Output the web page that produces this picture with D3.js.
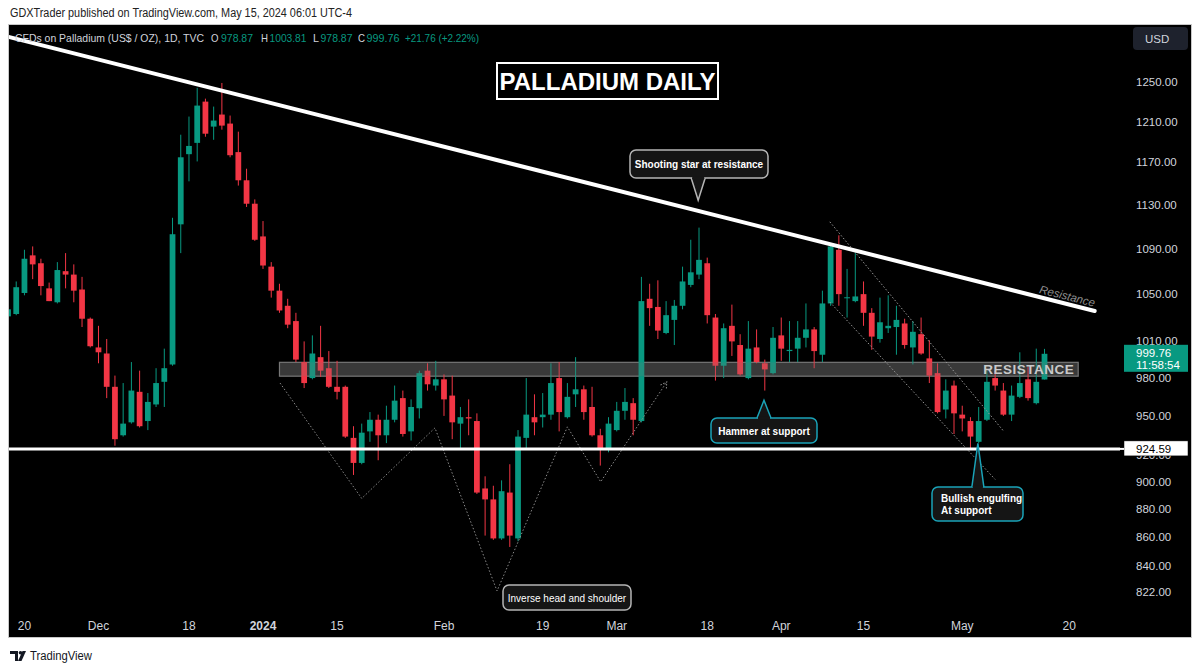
<!DOCTYPE html>
<html>
<head>
<meta charset="utf-8">
<script src="https://cdn.jsdelivr.net/npm/d3@7"></script>
<style>
  body { margin: 0; background: #fff; }
  text { font-family: "Liberation Sans", Arial, sans-serif; }
</style>
</head>
<body>
<div id="chart"></div>
<script>
// Daily candles, Nov 16 2023 -> May 15 2024 (bar index 0..126)
var opens  = [1031,1033,1051,1084,1077,1055,1043,1070,1067,1054,1029,1005,1000,973,935,945,969,946,959,977,
              991,1112,1178,1189,1230,1205,1217,1208,1180,1153,1131,1101,1074,1053,1040,1027,993,980,997,988,
              973,973,933,914,938,947,935,947,964,938,956,986,974,979,966,944,949,946,895,887,
              859,892,859,933,949,949,951,980,949,967,971,957,935,924,939,954,960,946,1046,1039,
              1017,1028,1040,1058,1067,1077,1030,990,1023,1007,980,1005,992,984,1015,1002,1004,1013,1020,999,
              1042,1089,1046.5,1044,1050,1034,1012,1021,1022,1025,1005,1016,996,984,955,974,951,946,930,947,
              980,970,951,965,979,960,978.87];
var highs  = [1039,1061,1089,1092,1081,1060,1078,1086,1076,1065,1030,1023,1012,982,976,993,986,968,988,1004,
              1118,1197,1215,1244,1233,1225,1249,1216,1200,1164,1135,1115,1078,1059,1046,1034,1010,1015,1023,1002,
              994,974,942,944,953,951,958,974,970,963,986,992,994,983,982,957,963,952,904,897,
              901,913,939,980,967,968,992,993,976,997,974,973,940,949,961,972,964,1065,1059,1062,
              1044,1045,1074,1098,1109,1082,1033,1025,1041,1016,1027,1020,995,1022,1030,1027,1027,1042,1022,1053,
              1093,1102,1072,1086,1061,1038,1047,1049,1040,1029,1027,1030,1011,992,979,978,958,949,957,986,
              986,976,974,1001,989,1004,1003.81];
var lows   = [1029,1032,1049,1063,1049,1044,1042,1055,1043,1022,1005,992,964,927,934,944,941,939,957,957,
              990,1086,1152,1171,1195,1192,1202,1175,1148,1128,1097,1072,1047,1034,1021,993,972,979,981,972,
              963,933,905,913,930,916,929,945,934,931,948,970,970,950,932,925,935,891,861,858,
              858,853,857,924,935,941,947,938,948,957,947,934,912,922,938,947,935,945,1023,1012,
              1016,1007,1037,1056,1063,1025,978,980,998,982,979,992,970,983,994,993,993,1005,988,993,
              1040,1040,1030,1043,1023,1003,1009,1017,999,1004,991,999,976,952,948,936,938,924,929,946,
              970,950,946,964,962,959,978.87];
var closes = [1037,1056,1081,1076,1057,1044,1071,1067,1053,1029,1006,1001,973,932,944,970,942,961,976,988,
              1103,1175,1186,1226,1198,1211,1206,1177,1153,1131,1098,1075,1053,1036,1024,995,976,1000,986,973,
              969,934,914,937,947,935,947,962,936,957,984,975,979,963,945,949,948,892,887,859,
              893,861,934,951,945,951,976,953,965,971,953,935,924,944,954,961,947,1044,1038,1019,
              1032,1040,1061,1069,1080,1032,990,1021,1010,983,1004,993,987,1013,1004,1003,1013,1020,1002,1042,
              1092,1050,1047.3,1048,1034,1014,1026,1023,1028,1007,1018,1000,982,953,970,952,948,934,946,977,
              974,951,966,976,964,977,999.76];

var xTickIdx    = [2, 11, 22, 31, 40, 53, 65, 74, 85, 94, 104, 116, 129];
var xTickLabels = ["20", "Dec", "18", "2024", "15", "Feb", "19", "Mar", "18", "Apr", "15", "May", "20"];
var yTicks      = [1250, 1210, 1170, 1130, 1090, 1050, 1010, 980, 950, 920, 900, 880, 860, 840, 822];

// drawn levels / patterns, in (bar index, price)
var trendLine   = [[0, 1297.4], [132.1, 1035.6]];
var supportLvl  = 924.59;
var resistZone  = [33, 130.1, 981.5, 992.8];
var headShoulder = [[33.07, 976.0], [43.0, 887.7], [51.9, 940.7], [59.45, 822.7], [68.0, 941.5], [72.05, 899.9], [80.08, 976.9]];
var channelTop  = [[99.9, 1114.3], [121.0, 938.4]];
var channelBot  = [[99.9, 1043.2], [120.0, 901.7]];

var W = 1200, H = 668;
var GREEN = "#089981", RED = "#f23645";

var svg = d3.select("#chart").append("svg")
    .attr("width", W).attr("height", H);

// frame
svg.append("rect").attr("x", 0).attr("y", 0).attr("width", W).attr("height", H).attr("fill", "#fff");
svg.append("rect").attr("x", 8.5).attr("y", 24.5).attr("width", 1183).attr("height", 613)
    .attr("fill", "#000").attr("stroke", "#c8c8c8").attr("stroke-width", 1);

var plot = {left: 9, right: 1120, top: 25, bottom: 612};

var x = d3.scaleLinear().domain([0, 126]).range([8, 1044.5]);
var y = d3.scaleLog().domain([822, 1250]).range([592, 82]);
var step = x(1) - x(0);

svg.append("clipPath").attr("id", "plotclip").append("rect")
    .attr("x", plot.left).attr("y", plot.top)
    .attr("width", plot.right - plot.left).attr("height", plot.bottom - plot.top);

var g = svg.append("g").attr("clip-path", "url(#plotclip)");

// resistance zone
g.append("rect")
    .attr("x", x(resistZone[0])).attr("width", x(resistZone[1]) - x(resistZone[0]))
    .attr("y", y(resistZone[3])).attr("height", y(resistZone[2]) - y(resistZone[3]))
    .attr("fill", "rgba(120,120,120,0.33)")
    .attr("stroke", "rgba(200,200,200,0.55)").attr("stroke-width", 1.2);

// candles
var idx = d3.range(opens.length);
var candles = g.append("g").selectAll("g").data(idx).enter().append("g");
candles.append("line")
    .attr("x1", function(i){ return x(i); }).attr("x2", function(i){ return x(i); })
    .attr("y1", function(i){ return y(highs[i]); }).attr("y2", function(i){ return y(lows[i]); })
    .attr("stroke", function(i){ return closes[i] >= opens[i] ? GREEN : RED; })
    .attr("stroke-width", 1);
candles.append("rect")
    .attr("x", function(i){ return x(i) - step * 0.35; })
    .attr("width", step * 0.7)
    .attr("y", function(i){ return y(Math.max(opens[i], closes[i])); })
    .attr("height", function(i){ return Math.max(1, Math.abs(y(opens[i]) - y(closes[i]))); })
    .attr("fill", function(i){ return closes[i] >= opens[i] ? GREEN : RED; });

// resistance zone overlay (drawn over candles too, semi transparent)
g.append("rect")
    .attr("x", x(resistZone[0])).attr("width", x(resistZone[1]) - x(resistZone[0]))
    .attr("y", y(resistZone[3])).attr("height", y(resistZone[2]) - y(resistZone[3]))
    .attr("fill", "rgba(120,120,120,0.22)");

g.append("text")
    .attr("x", x(resistZone[1]) - 4).attr("y", (y(resistZone[2]) + y(resistZone[3])) / 2 + 5)
    .attr("text-anchor", "end")
    .attr("fill", "#c9c9c9").attr("font-size", 13.5).attr("font-weight", "bold")
    .attr("letter-spacing", 0.5)
    .text("RESISTANCE");

var line = d3.line().x(function(d){ return x(d[0]); }).y(function(d){ return y(d[1]); });

// dotted pattern lines
g.append("path").datum(headShoulder).attr("d", line)
    .attr("fill", "none").attr("stroke", "#8a8a8a").attr("stroke-width", 1)
    .attr("stroke-dasharray", "1.5,2");
var hsEnd = headShoulder[headShoulder.length - 1], hsPrev = headShoulder[headShoulder.length - 2];
var ang = Math.atan2(y(hsEnd[1]) - y(hsPrev[1]), x(hsEnd[0]) - x(hsPrev[0]));
g.append("path")
    .attr("d", "M-6,-3.5 L0,0 L-6,3.5")
    .attr("transform", "translate(" + x(hsEnd[0]) + "," + y(hsEnd[1]) + ") rotate(" + (ang * 180 / Math.PI) + ")")
    .attr("fill", "none").attr("stroke", "#8a8a8a").attr("stroke-width", 1).attr("stroke-dasharray", "1.5,1.5");

[channelTop, channelBot].forEach(function(c) {
  g.append("path").datum(c).attr("d", line)
    .attr("fill", "none").attr("stroke", "#9a9a9a").attr("stroke-width", 1)
    .attr("stroke-dasharray", "1.5,2");
});

// support + trend line
g.append("line")
    .attr("x1", plot.left).attr("x2", plot.right)
    .attr("y1", y(supportLvl)).attr("y2", y(supportLvl))
    .attr("stroke", "#fff").attr("stroke-width", 3);
g.append("path").datum(trendLine).attr("d", line)
    .attr("fill", "none").attr("stroke", "#fff").attr("stroke-width", 4)
    .attr("stroke-linecap", "round");

// "Resistance" label along the trend line
var tA = trendLine[0], tB = trendLine[1];
var tAng = Math.atan2(y(tB[1]) - y(tA[1]), x(tB[0]) - x(tA[0])) * 180 / Math.PI;
g.append("text")
    .attr("transform", "translate(" + (x(tB[0]) - 56) + "," + (y(tB[1]) - 18) + ") rotate(" + tAng + ")")
    .attr("fill", "#8c8c8c").attr("font-size", 11.5).attr("font-style", "italic")
    .text("Resistance");

// title box
svg.append("rect").attr("x", 497).attr("y", 63).attr("width", 221).attr("height", 36)
    .attr("fill", "#000").attr("stroke", "#fff").attr("stroke-width", 2);
svg.append("text").attr("x", 607.5).attr("y", 90).attr("text-anchor", "middle")
    .attr("fill", "#fff").attr("font-size", 24).attr("font-weight", "bold")
    .text("PALLADIUM DAILY");

// callouts
function callout(lines, bx, by, bw, bh, stroke, tip, ptrHalf, bold) {
  var cg = svg.append("g");
  cg.append("rect").attr("x", bx).attr("y", by).attr("width", bw).attr("height", bh)
    .attr("rx", 6).attr("fill", "#151515").attr("stroke", stroke).attr("stroke-width", 1.5);
  if (tip) {
    var tx = x(tip[0]), ty = y(tip[1]);
    var baseY = ty < by ? by : by + bh;
    cg.append("path")
      .attr("d", "M" + (tx - ptrHalf) + "," + baseY + " L" + tx + "," + ty + " L" + (tx + ptrHalf) + "," + baseY)
      .attr("fill", "#151515").attr("stroke", stroke).attr("stroke-width", 1.5);
    cg.append("line").attr("x1", tx - ptrHalf + 1).attr("x2", tx + ptrHalf - 1)
      .attr("y1", baseY).attr("y2", baseY).attr("stroke", "#151515").attr("stroke-width", 2.5);
  }
  lines.forEach(function(t, k) {
    cg.append("text")
      .attr("x", lines.length > 1 ? bx + 9 : bx + bw / 2)
      .attr("y", by + bh / 2 + 4 + (k - (lines.length - 1) / 2) * 12)
      .attr("text-anchor", lines.length > 1 ? "start" : "middle")
      .attr("fill", "#fff").attr("font-size", 10).attr("font-weight", bold ? "bold" : "normal")
      .text(t);
  });
}
callout(["Shooting star at resistance"], 630, 150, 138, 28, "#b5b5b5", [83.9, 1134.3], 7, true);
callout(["Hammer at support"], 711, 418, 106, 25, "#1aa3b8", [91.9, 962.3], 7, true);
callout(["Bullish engulfing", "At support"], 932, 487, 91, 34, "#1aa3b8", [117.9, 928.9], 6, true);
callout(["Inverse head and shoulder"], 503, 585, 128, 25, "#b5b5b5", null, 0, false);

// x axis
var xAxis = svg.append("g");
xAxis.selectAll("text").data(xTickIdx).enter().append("text")
    .attr("x", function(d){ return x(d); }).attr("y", 630)
    .attr("text-anchor", "middle")
    .attr("fill", "#d1d4dc").attr("font-size", 12)
    .attr("font-weight", function(d, i){ return xTickLabels[i] === "2024" ? "bold" : "normal"; })
    .text(function(d, i){ return xTickLabels[i]; });

// y axis (920 sits under the support label, like the source)
var yAxis = svg.append("g");
yAxis.selectAll("text").data(yTicks).enter().append("text")
    .attr("x", 1136).attr("y", function(d){ return y(d) + 4; })
    .attr("fill", "#d1d4dc").attr("font-size", 11.5)
    .text(function(d){ return d3.format(".2f")(d); });

// support label
svg.append("rect").attr("x", 1124).attr("y", y(supportLvl) - 8).attr("width", 64).attr("height", 15)
    .attr("fill", "#fff").attr("stroke", "#000").attr("stroke-width", 0.5);
svg.append("line").attr("x1", 1120).attr("x2", 1124).attr("y1", y(supportLvl)).attr("y2", y(supportLvl))
    .attr("stroke", "#fff").attr("stroke-width", 2);
svg.append("text").attr("x", 1136).attr("y", y(supportLvl) + 4)
    .attr("fill", "#000").attr("font-size", 11.5).text(d3.format(".2f")(supportLvl));

// last price label
var last = closes[closes.length - 1];
svg.append("rect").attr("x", 1124).attr("y", y(last) - 9).attr("width", 64).attr("height", 27)
    .attr("fill", GREEN);
svg.append("text").attr("x", 1136).attr("y", y(last) + 3)
    .attr("fill", "#fff").attr("font-size", 11.5).text(d3.format(".2f")(last));
svg.append("text").attr("x", 1136).attr("y", y(last) + 15)
    .attr("fill", "#fff").attr("font-size", 11.5).text("11:58:54");

// USD button
svg.append("rect").attr("x", 1133).attr("y", 27).attr("width", 55).attr("height", 23).attr("rx", 4)
    .attr("fill", "#1e222d");
svg.append("text").attr("x", 1145).attr("y", 43).attr("fill", "#d1d4dc").attr("font-size", 11.5).text("USD");

// header texts
svg.append("text").attr("x", 10).attr("y", 17).attr("fill", "#222").attr("font-size", 12.5)
    .attr("textLength", 342).attr("lengthAdjust", "spacingAndGlyphs")
    .text("GDXTrader published on TradingView.com, May 15, 2024 06:01 UTC-4");

// legend row, one text per piece
var n = closes.length - 1;
var legendParts = [
  {t: "CFDs on Palladium (US$ / OZ), 1D, TVC", x: 15, c: "#d1d4dc", w: 189},
  {t: "O", x: 211, c: "#d1d4dc", w: 7.5},
  {t: d3.format(".2f")(opens[n]), x: 221, c: GREEN, w: 32},
  {t: "H", x: 261, c: "#d1d4dc", w: 7},
  {t: d3.format(".2f")(highs[n]), x: 269.5, c: GREEN, w: 37},
  {t: "L", x: 313, c: "#d1d4dc", w: 6},
  {t: d3.format(".2f")(lows[n]), x: 320.5, c: GREEN, w: 32},
  {t: "C", x: 358, c: "#d1d4dc", w: 7},
  {t: d3.format(".2f")(closes[n]), x: 366.5, c: GREEN, w: 33},
  {t: "+21.76 (+2.22%)", x: 405, c: GREEN, w: 74}
];
svg.append("g").selectAll("text").data(legendParts).enter().append("text")
    .attr("x", function(d){ return d.x; }).attr("y", 42)
    .attr("font-size", 11).attr("fill", function(d){ return d.c; })
    .attr("textLength", function(d){ return d.w; })
    .attr("lengthAdjust", "spacingAndGlyphs")
    .text(function(d){ return d.t; });

// footer logo
var logo = svg.append("g").attr("fill", "#131722");
logo.append("path").attr("d", "M10,651 H18 V661 H15 V654 H10 Z");
logo.append("circle").attr("cx", 20.5).attr("cy", 652.8).attr("r", 1.8);
logo.append("path").attr("d", "M22.5,651 H26 L21.5,661 H18 Z");
svg.append("text").attr("x", 30).attr("y", 660).attr("fill", "#131722").attr("font-size", 12.5)
    .attr("textLength", 62).attr("lengthAdjust", "spacingAndGlyphs")
    .text("TradingView");
</script>
</body>
</html>
